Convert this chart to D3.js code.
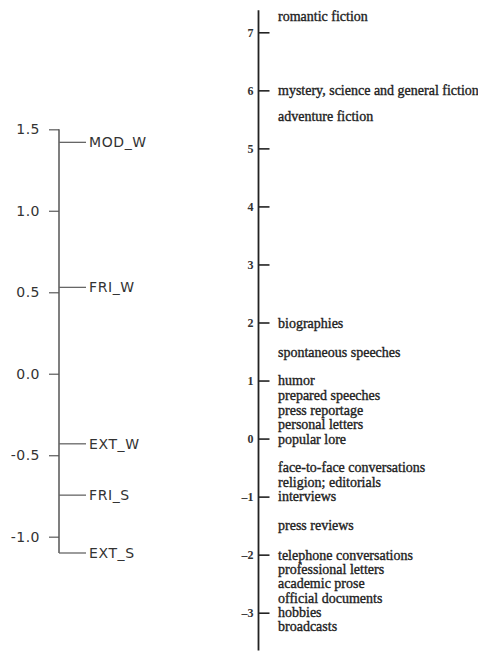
<!DOCTYPE html>
<html>
<head>
<meta charset="utf-8">
<script src="https://cdn.jsdelivr.net/npm/d3@7/dist/d3.min.js"></script>
<style>
  body { margin: 0; background: #fff; }
  svg { display: block; }
</style>
</head>
<body>
<svg id="chart" width="478" height="651"></svg>
<script>
// Left panel: dimension scores
const leftTicks = [1.5, 1.0, 0.5, 0.0, -0.5, -1.0];
const leftNames = ["MOD_W", "FRI_W", "EXT_W", "FRI_S", "EXT_S"];
const leftValues = [1.42, 0.53, -0.43, -0.745, -1.10];

// Right panel: genre scores
const rightTicks = [7, 6, 5, 4, 3, 2, 1, 0, -1, -2, -3];
const genres = [
  "romantic fiction",
  "mystery, science and general fiction",
  "adventure fiction",
  "biographies",
  "spontaneous speeches",
  "humor",
  "prepared speeches",
  "press reportage",
  "personal letters",
  "popular lore",
  "face-to-face conversations",
  "religion; editorials",
  "interviews",
  "press reviews",
  "telephone conversations",
  "professional letters",
  "academic prose",
  "official documents",
  "hobbies",
  "broadcasts"
];
const genreValues = [7.27, 6.0, 5.55, 1.98, 1.47, 1.0, 0.73, 0.48, 0.23, -0.02,
  -0.5, -0.76, -1.01, -1.5, -2.02, -2.26, -2.51, -2.76, -3.0, -3.25];

const svg = d3.select("#chart");

// ---- Left panel ----
const yL = d3.scaleLinear().domain([1.5, -1.0]).range([129.3, 536.7]);
const axL = 59;
const gL = svg.append("g").attr("transform", `translate(${axL},0)`);
const axisL = d3.axisLeft(yL).tickValues(leftTicks).tickFormat(d => d.toFixed(1))
  .tickSize(10).tickPadding(9);
gL.call(axisL);
gL.select(".domain").remove();
gL.selectAll(".tick line").attr("stroke", "#666").attr("stroke-width", 1.3);
gL.selectAll(".tick text").attr("font-family", "DejaVu Sans").attr("font-size", 14)
  .attr("letter-spacing", 0.5).attr("fill", "#333");
gL.append("line").attr("x1", 0).attr("x2", 0)
  .attr("y1", yL(d3.max(leftTicks))).attr("y2", yL(d3.min(leftValues)))
  .attr("stroke", "#555").attr("stroke-width", 1.5);
const lItems = gL.selectAll("g.item").data(leftNames).enter().append("g").attr("class", "item");
lItems.append("line").attr("x1", 0).attr("x2", 27)
  .attr("y1", (d, i) => yL(leftValues[i])).attr("y2", (d, i) => yL(leftValues[i]))
  .attr("stroke", "#666").attr("stroke-width", 1.3);
lItems.append("text").attr("x", 30).attr("y", (d, i) => yL(leftValues[i])).attr("dy", "0.36em")
  .attr("text-anchor", "start")
  .attr("font-family", "DejaVu Sans").attr("font-size", 14).attr("letter-spacing", 0.6)
  .attr("fill", "#333").text(d => d);

// ---- Right panel ----
const yR = d3.scaleLinear().domain([7, -3]).range([32.3, 612.7]);
const axR = 258.5;
const gR = svg.append("g").attr("transform", `translate(${axR},0)`);
const axisR = d3.axisLeft(yR).tickValues(rightTicks).tickFormat(d => d < 0 ? "\u2013" + Math.abs(d) : String(d))
  .tickSize(-11).tickPadding(5);
gR.call(axisR);
gR.select(".domain").remove();
gR.selectAll(".tick line").attr("stroke", "#222").attr("stroke-width", 1.6);
gR.selectAll(".tick text").attr("font-family", "Liberation Serif").attr("font-size", 12)
  .attr("font-weight", "bold").attr("fill", "#333");
gR.append("line").attr("x1", 0).attr("x2", 0)
  .attr("y1", yR(7.38)).attr("y2", yR(-3.65))
  .attr("stroke", "#222").attr("stroke-width", 1.8);
gR.selectAll("text.genre").data(genres).enter().append("text").attr("class", "genre")
  .attr("x", 19.5).attr("y", (d, i) => yR(genreValues[i])).attr("dy", "0.3em")
  .attr("text-anchor", "start")
  .attr("font-family", "Liberation Serif").attr("font-size", 14)
  .attr("fill", "#222").attr("stroke", "#222").attr("stroke-width", 0.35)
  .text(d => d);
</script>
</body>
</html>
